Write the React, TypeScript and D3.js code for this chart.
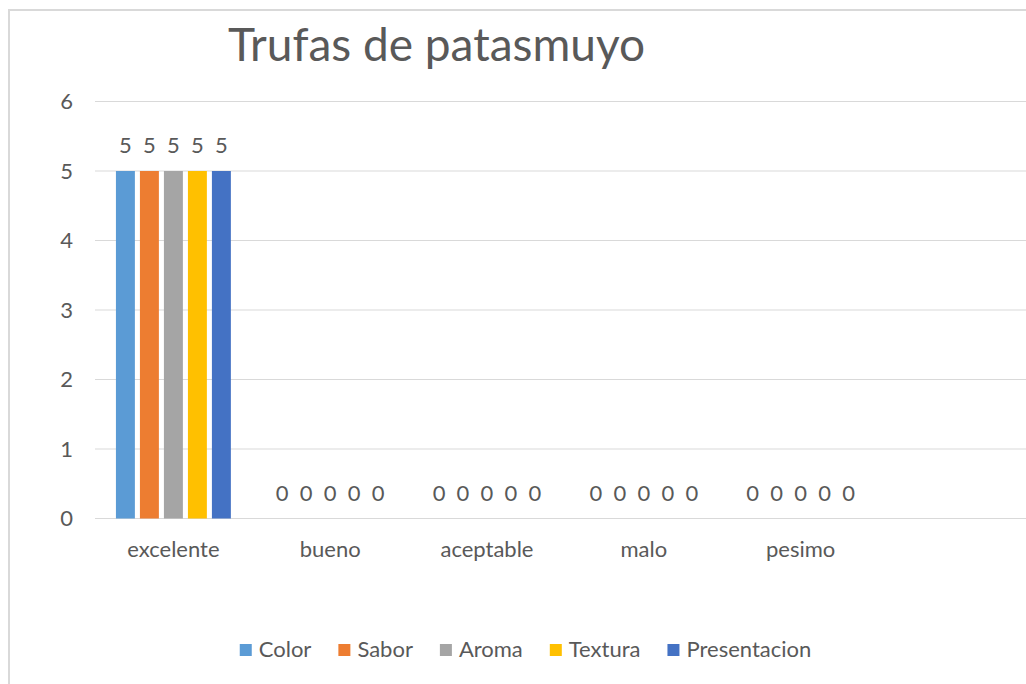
import React from "react";
import * as d3 from "d3";

const title = "Trufas de patasmuyo";
const categories = ["excelente", "bueno", "aceptable", "malo", "pesimo"];
const seriesNames = ["Color", "Sabor", "Aroma", "Textura", "Presentacion"];
const colorValues = [5, 0, 0, 0, 0];
const saborValues = [5, 0, 0, 0, 0];
const aromaValues = [5, 0, 0, 0, 0];
const texturaValues = [5, 0, 0, 0, 0];
const presentacionValues = [5, 0, 0, 0, 0];
const yTicks = [0, 1, 2, 3, 4, 5, 6];
const seriesColors = ["#5B9BD5", "#ED7D31", "#A5A5A5", "#FFC000", "#4472C4"];

const seriesValues = [colorValues, saborValues, aromaValues, texturaValues, presentacionValues];

const W = 1026;
const H = 684;
const FONT = "Lato, 'Open Sans', sans-serif";
const TXT = "#595959";
const FS = 22;

function measure(text: string, size: number, weight = "normal") {
  const c = document.createElement("canvas").getContext("2d");
  if (!c) return text.length * size * 0.5;
  c.font = `${weight} ${size}px Lato`;
  return c.measureText(text).width;
}

export default function App() {
  const plotLeft = 95;
  const step = 156.8;
  const plotTop = 101.5;
  const plotBottom = 518.5;
  const gridRight = 1040;

  const x0 = d3
    .scaleBand<string>()
    .domain(categories)
    .range([plotLeft, plotLeft + step * categories.length])
    .paddingInner(0.267)
    .paddingOuter(0.1335);
  const x1 = d3
    .scaleBand<string>()
    .domain(seriesNames)
    .range([0, x0.bandwidth()])
    .paddingInner(0.21);
  const y = d3.scaleLinear().domain([0, 6]).range([plotBottom, plotTop]);

  // legend layout
  const legendSize = FS;
  const sq = 12;
  const sqGap = 7;
  const itemGap = 27;
  const widths = seriesNames.map((s) => measure(s, legendSize));
  const itemW = widths.map((w) => sq + sqGap + w);
  const total = itemW.reduce((a, b) => a + b, 0) + itemGap * (seriesNames.length - 1);
  const legendCenter = 525.5;
  let cursor = legendCenter - total / 2;
  const legendX = itemW.map((w) => {
    const p = cursor;
    cursor += w + itemGap;
    return p;
  });

  return (
    <svg
      width={W}
      height={H}
      style={{ position: "absolute", left: 0, top: 0, background: "#fff" }}
      fontFamily={FONT}
    >
      <rect x={0} y={0} width={W} height={H} fill="#fff" />
      <rect x={9} y={10} width={W + 40} height={H + 40} fill="#fff" stroke="#d9d9d9" strokeWidth={2} />

      <text x={436.5} y={61} textAnchor="middle" fontSize={46} fill={TXT}>
        {title}
      </text>

      {yTicks.map((t) => (
        <g key={t}>
          <line x1={plotLeft} x2={gridRight} y1={y(t)} y2={y(t)} stroke="#d9d9d9" strokeWidth={1.2} />
          <text x={73} y={y(t)} dy="0.36em" textAnchor="end" fontSize={FS} fill={TXT}>
            {t}
          </text>
        </g>
      ))}

      {categories.map((cat, ci) => (
        <g key={cat} transform={`translate(${x0(cat)},0)`}>
          {seriesNames.map((s, si) => {
            const v = seriesValues[si][ci];
            const bx = x1(s) as number;
            return (
              <g key={s}>
                <rect
                  x={bx}
                  y={y(v)}
                  width={x1.bandwidth()}
                  height={plotBottom - y(v)}
                  fill={seriesColors[si]}
                />
                <text
                  x={bx + x1.bandwidth() / 2}
                  y={y(v) - 18}
                  textAnchor="middle"
                  fontSize={FS}
                  fill={TXT}
                >
                  {v}
                </text>
              </g>
            );
          })}
          <text x={x0.bandwidth() / 2} y={557} textAnchor="middle" fontSize={FS} fill={TXT}>
            {cat}
          </text>
        </g>
      ))}

      {seriesNames.map((s, i) => (
        <g key={s} transform={`translate(${legendX[i]},0)`}>
          <rect x={0} y={644} width={sq} height={sq} fill={seriesColors[i]} />
          <text x={sq + sqGap} y={657} fontSize={legendSize} fill={TXT}>
            {s}
          </text>
        </g>
      ))}
    </svg>
  );
}
